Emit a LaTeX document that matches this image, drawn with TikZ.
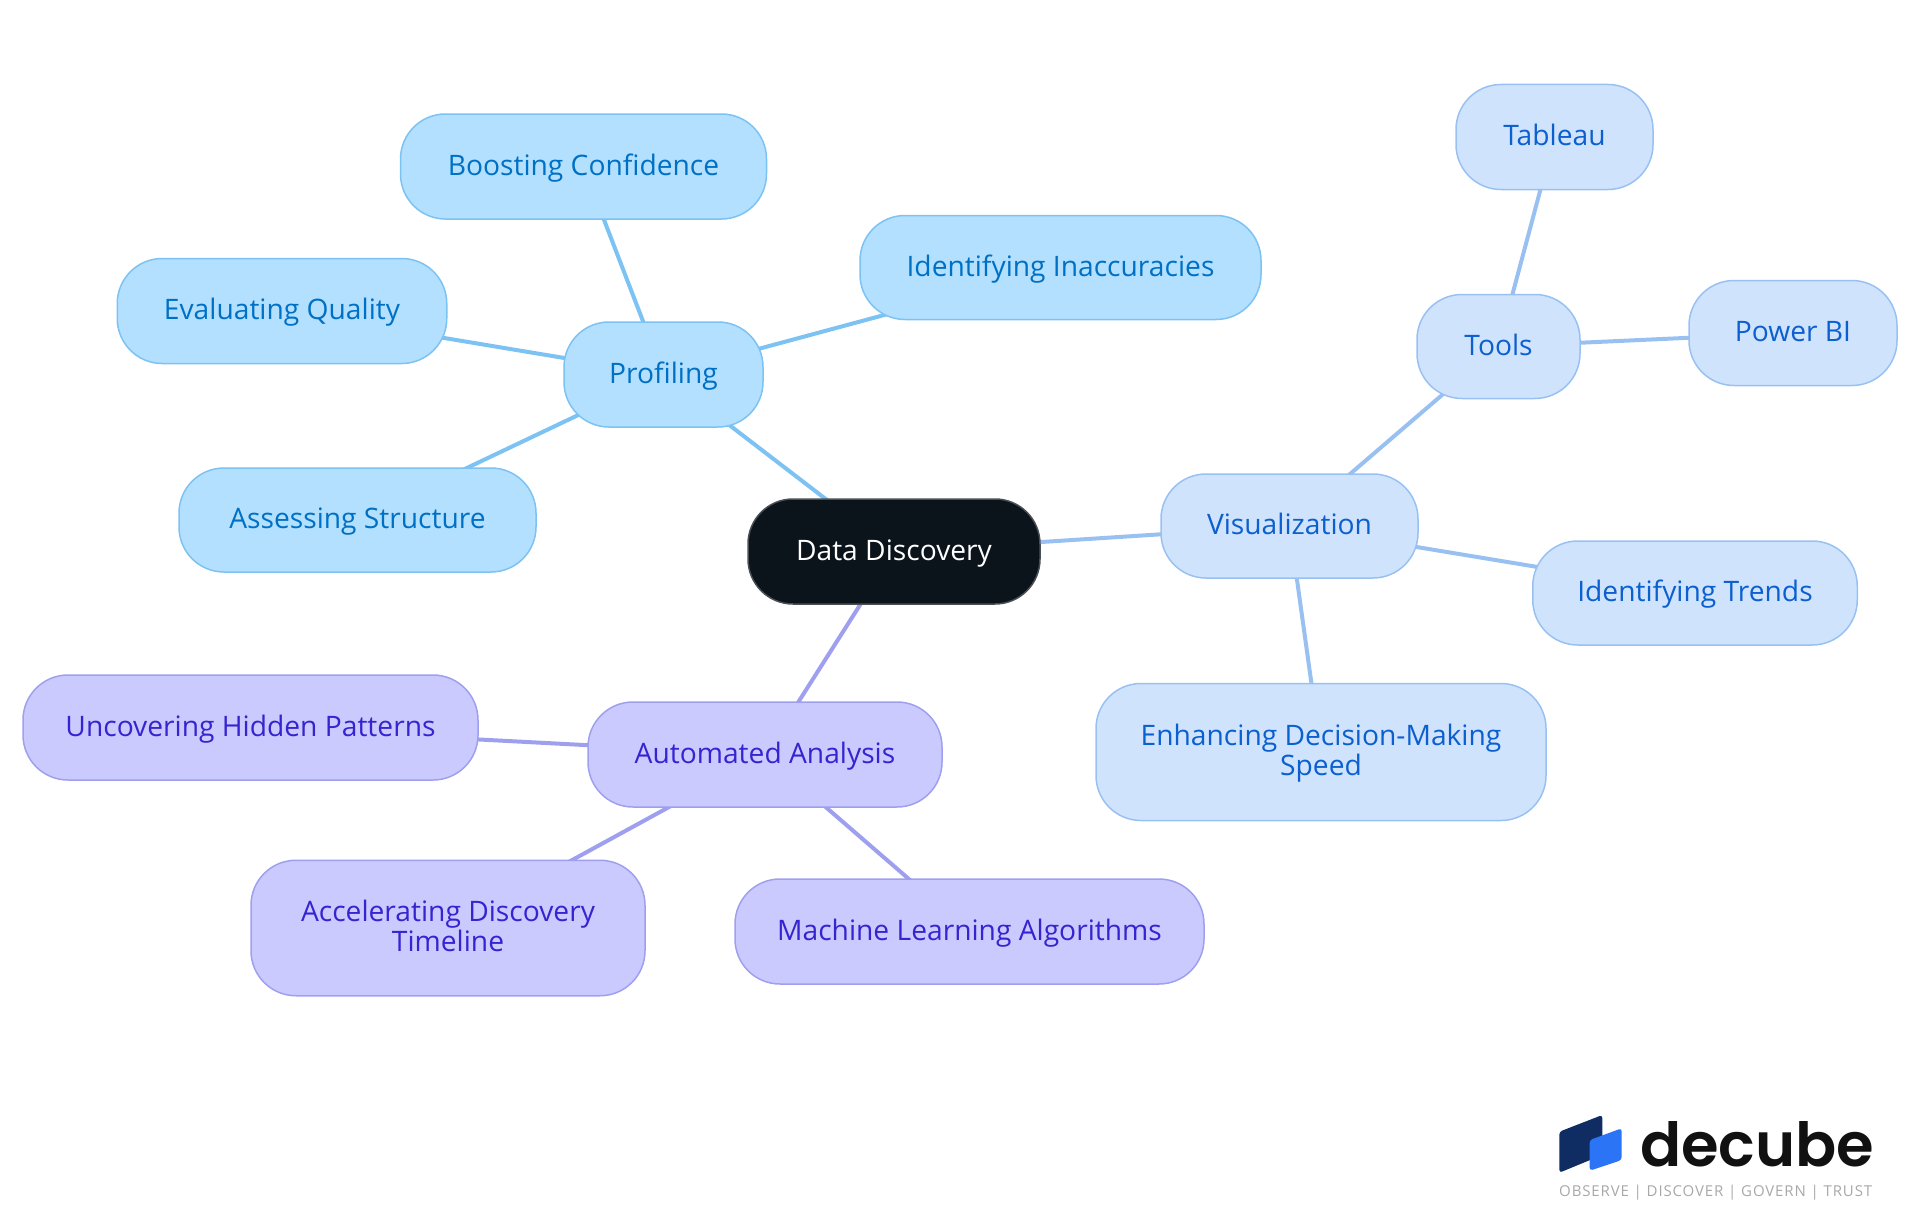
\documentclass[tikz,border=0pt]{standalone}
\usepackage{fontspec}
\setmainfont{Open Sans}
\newfontfamily\logofont{Poppins SemiBold}
\newfontfamily\tagfont[LetterSpace=5.8]{Open Sans}
\usetikzlibrary{backgrounds}
\definecolor{pfill}{HTML}{B3E0FF}\definecolor{pline}{HTML}{7CC2F2}\definecolor{ptext}{HTML}{0070C4}
\definecolor{vfill}{HTML}{CFE3FD}\definecolor{vline}{HTML}{98C1F2}\definecolor{vtext}{HTML}{0B5FCE}
\definecolor{afill}{HTML}{CACAFE}\definecolor{aline}{HTML}{9F9FF0}\definecolor{atext}{HTML}{3524D0}
\definecolor{cfill}{HTML}{0B131B}\definecolor{cline}{HTML}{4A4F55}
\definecolor{logodark}{HTML}{0F2C63}\definecolor{logoblue}{HTML}{2A74F5}\definecolor{logotext}{HTML}{111111}\definecolor{taggray}{HTML}{A8A8A8}
\newcommand{\lst}{\leavevmode\vrule width 0pt height 24.5pt depth 7.5pt\relax}
\AtBeginDocument{\lineskiplimit=-100pt\relax}
\tikzset{
 box/.style={rounded corners=45pt,line width=1.5pt,inner sep=0pt,outer sep=0pt,align=center,font=\fontsize{28.2}{30.6}\selectfont},
 cnode/.style={box,fill=cfill,draw=cline,text=white},
 pnode/.style={box,fill=pfill,draw=pline,text=ptext},
 vnode/.style={box,fill=vfill,draw=vline,text=vtext},
 anode/.style={box,fill=afill,draw=aline,text=atext},
 pedge/.style={draw=pline,line width=4pt},
 vedge/.style={draw=vline,line width=4pt},
 aedge/.style={draw=aline,line width=4pt},
 sz/.style 2 args={minimum width=#1pt,minimum height=#2pt},
}
\begin{document}
\begin{tikzpicture}[x=1pt,y=-1pt]
\useasboundingbox (0,0) rectangle (1920,1215);
\node[cnode,sz={292}{105}] (central) at (894,551.5) {\lst Data Discovery};
\node[pnode,sz={199}{105}] (prof) at (663.5,374.5) {\lst Profiling};
\node[pnode,sz={366}{105}] (boost) at (583.5,166.5) {\lst Boosting Confidence};
\node[pnode,sz={401}{104}] (inacc) at (1060.5,267.5) {\lst Identifying Inaccuracies};
\node[pnode,sz={329.5}{105}] (evalq) at (282,311) {\lst Evaluating Quality};
\node[pnode,sz={357}{104}] (assess) at (357.5,520) {\lst Assessing Structure};
\node[vnode,sz={257}{104}] (vis) at (1289.5,526) {\lst Visualization};
\node[vnode,sz={163}{104}] (tools) at (1498.5,346.5) {\lst Tools};
\node[vnode,sz={197}{105}] (tableau) at (1554.5,137) {\lst Tableau};
\node[vnode,sz={208}{105}] (powerbi) at (1793,333) {\lst Power BI};
\node[vnode,sz={324.5}{104}] (trends) at (1695,593) {\lst Identifying Trends};
\node[vnode,sz={450}{137}] (speed) at (1321,752) {\lst Enhancing Decision-Making\\\lst Speed};
\node[anode,sz={354}{105}] (auto) at (765,754.5) {\lst Automated Analysis};
\node[anode,sz={455}{105}] (hidden) at (250.5,727.5) {\lst Uncovering Hidden Patterns};
\node[anode,sz={394}{135.5}] (accel) at (448,928) {\lst Accelerating Discovery\\\lst Timeline};
\node[anode,sz={469}{105}] (ml) at (969.5,931.5) {\lst Machine Learning Algorithms};
\begin{scope}[on background layer]
\draw[pedge] (central.center) -- (prof.center);
\draw[pedge] (prof.center) -- (boost.center);
\draw[pedge] (prof.center) -- (inacc.center);
\draw[pedge] (prof.center) -- (evalq.center);
\draw[pedge] (prof.center) -- (assess.center);
\draw[vedge] (central.center) -- (vis.center);
\draw[vedge] (vis.center) -- (tools.center);
\draw[vedge] (tools.center) -- (tableau.center);
\draw[vedge] (tools.center) -- (powerbi.center);
\draw[vedge] (vis.center) -- (trends.center);
\draw[vedge] (vis.center) -- (speed.center);
\draw[aedge] (central.center) -- (auto.center);
\draw[aedge] (auto.center) -- (hidden.center);
\draw[aedge] (auto.center) -- (accel.center);
\draw[aedge] (auto.center) -- (ml.center);
\end{scope}
% logo
\fill[logodark,rounded corners=3pt] (1559.3,1172.7) -- (1559.3,1131.7) -- (1602.3,1115) -- (1602.3,1155) -- cycle;
\fill[logoblue,rounded corners=3pt] (1589.7,1170.7) -- (1589.7,1140) -- (1621.7,1128.3) -- (1621.7,1160) -- cycle;
\node[inner sep=0pt,anchor=base west,text=logotext,font=\logofont\fontsize{60.8}{61}\selectfont] (brand) at (1640,1166.5) {decube};
\node[inner sep=0pt,anchor=base west,text=taggray,font=\tagfont\fontsize{15}{15}\selectfont] (tag) at (1559,1196.5) {OBSERVE | DISCOVER | GOVERN | TRUST};
\end{tikzpicture}
\end{document}
